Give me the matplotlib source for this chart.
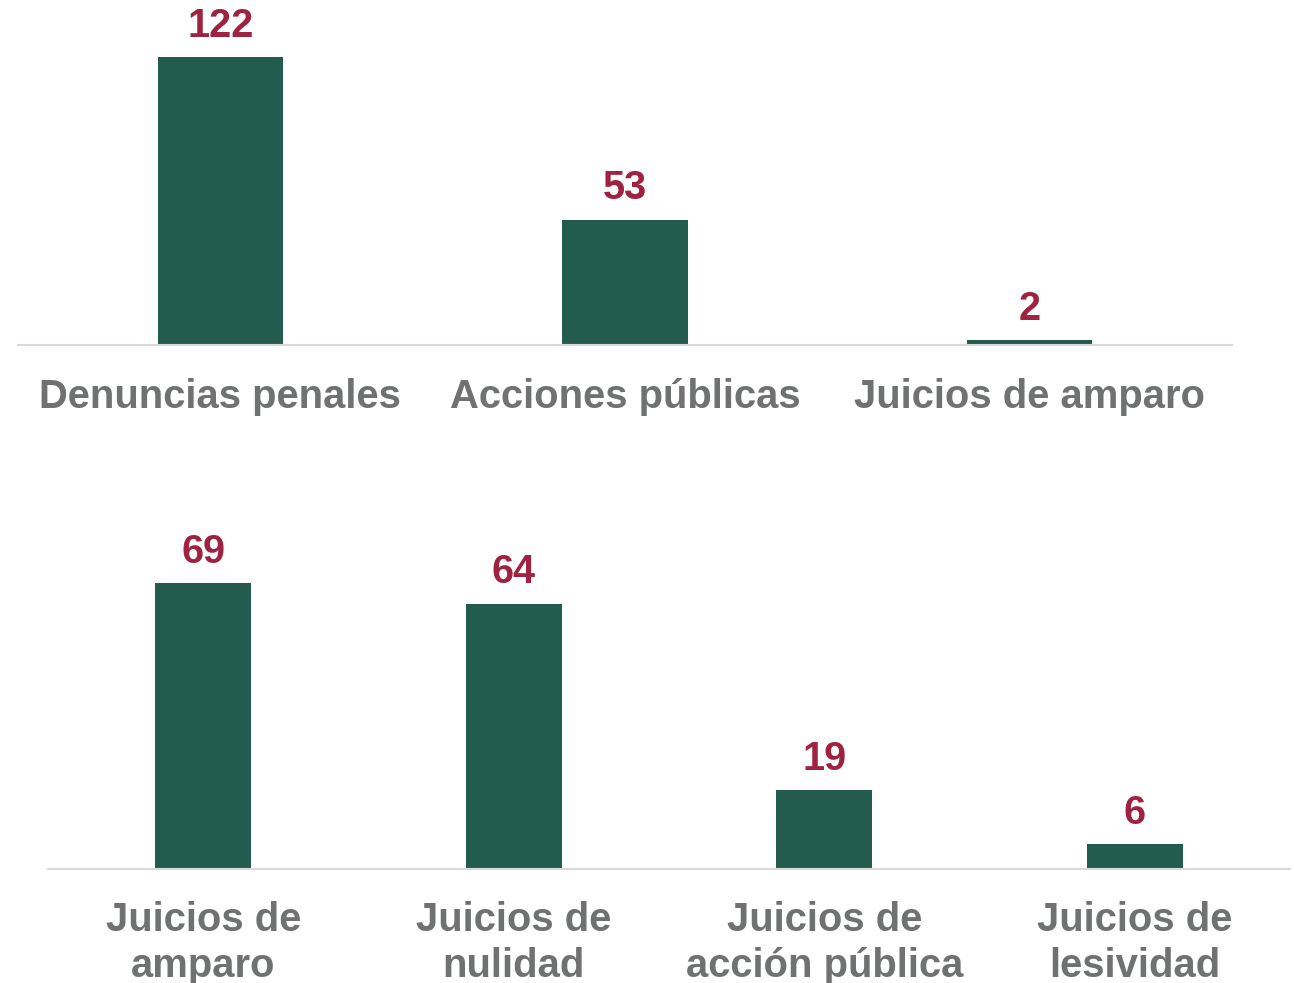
import matplotlib
matplotlib.use("Agg")
import matplotlib.pyplot as plt

top_categories = ["Denuncias penales", "Acciones públicas", "Juicios de amparo"]
top_values = [122, 53, 2]
bottom_categories = ["Juicios de\namparo", "Juicios de\nnulidad", "Juicios de\nacción pública", "Juicios de\nlesividad"]
bottom_values = [69, 64, 19, 6]

BAR = "#235B4E"
VAL = "#9F2241"
TXT = "#6F7271"
AXL = "#D9D9D9"

plt.rcParams['font.family'] = ['Liberation Sans', 'DejaVu Sans']

fig = plt.figure(figsize=(12.94, 9.83), dpi=100)
ax1 = fig.add_axes([18/1294, (983-345)/983, 1214/1294, 345/983])
ax2 = fig.add_axes([48/1294, (983-869)/983, 1242/1294, 349/983])

def draw(ax, cats, vals, ymax, pad):
    x = list(range(len(cats)))
    bars = ax.bar(x, vals, width=0.31, color=BAR, zorder=2)
    ax.set_xlim(-0.5, len(cats) - 0.5)
    ax.set_ylim(0, ymax)
    for b, v in zip(bars, vals):
        ax.annotate(str(v), (b.get_x() + b.get_width()/2, b.get_height()),
                    xytext=(0, 9), textcoords="offset points",
                    ha="center", va="bottom", fontsize=28.5, fontweight="bold", color=VAL)
    ax.set_xticks(x)
    ax.set_xticklabels(cats, fontsize=28.8, fontweight="bold", color=TXT, linespacing=1.27)
    ax.tick_params(axis="x", length=0, pad=pad)
    ax.set_yticks([])
    for s in ["top", "right", "left"]:
        ax.spines[s].set_visible(False)
    ax.spines["bottom"].set_color(AXL)
    ax.spines["bottom"].set_linewidth(1.5)
    ax.set_facecolor("none")

draw(ax1, top_categories, top_values, 146.2, 24)
draw(ax2, bottom_categories, bottom_values, 84.2, 23)

fig.savefig("out.png", dpi=100)
